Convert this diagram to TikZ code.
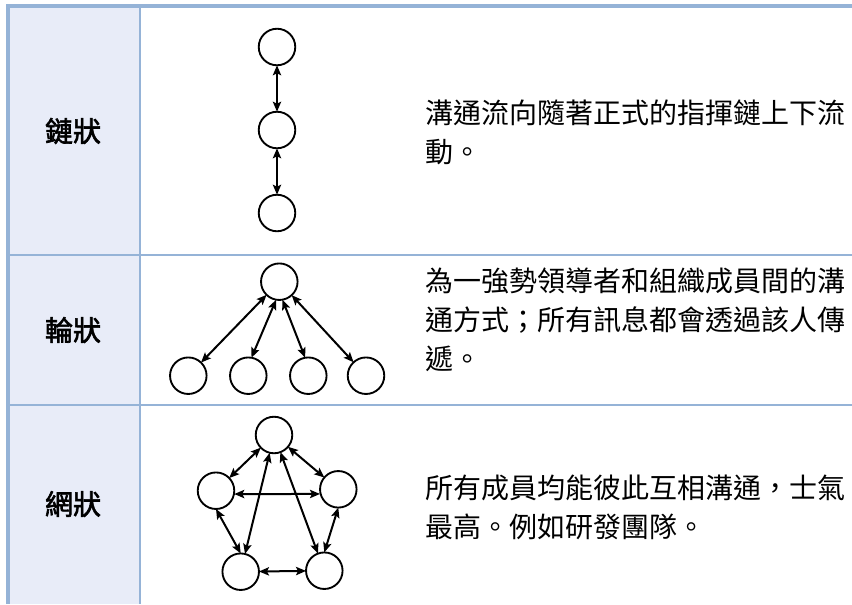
\documentclass[tikz,border=0pt]{standalone}
\usepackage{fontspec}
\newfontfamily\cjk[Script=CJK,Language=Chinese Traditional]{Noto Sans CJK TC}
\newfontfamily\cjklab[Script=CJK,Language=Chinese Traditional,FakeBold=2.2]{Noto Sans CJK TC}
\usetikzlibrary{arrows.meta}
\definecolor{bordc}{RGB}{149,179,215}
\definecolor{cellc}{RGB}{232,236,248}
\begin{document}
\begin{tikzpicture}[x=0.75pt,y=-0.75pt,
  circ/.style={circle,draw=black,line width=1.4pt,minimum size=27.4pt,inner sep=0pt,outer sep=0pt},
  link/.style={{Stealth[length=7.5pt,width=6.2pt,inset=1.5pt]}-{Stealth[length=7.5pt,width=6.2pt,inset=1.5pt]},line width=1.5pt},
  rowlabel/.style={font=\cjklab\fontsize{21}{26}\selectfont,inner sep=0pt},
  desc/.style={font=\cjk\fontsize{21}{29.25}\selectfont,align=left,anchor=west,inner sep=0pt},
  rule/.style={draw=bordc,line width=2pt}]
\useasboundingbox (0,0) rectangle (852,604);
\fill[white] (0,0) rectangle (852,604);
% table
\fill[cellc] (8,5) rectangle (140,604);
\draw[rule] (8,255) -- (852,255);
\draw[rule] (8,405) -- (852,405);
\draw[rule] (140,6) -- (140,604);
\draw[draw=bordc,line width=2.6pt] (6,5.8) -- (852,5.8);
\draw[draw=bordc,line width=3pt] (8,4.5) -- (8,604);
% labels
\node[rowlabel] (l1) at (73,131) {鏈狀};
\node[rowlabel] (l2) at (73,330) {輪狀};
\node[rowlabel] (l3) at (73,504) {網狀};
% descriptions
\node[desc] (d1) at (425,132) {溝通流向隨著正式的指揮鏈上下流\\動。};
\node[desc] (d2) at (425,320) {為一強勢領導者和組織成員間的溝\\通方式；所有訊息都會透過該人傳\\遞。};
\node[desc] (d3) at (425,507) {所有成員均能彼此互相溝通，士氣\\最高。例如研發團隊。};
% chain
\node[circ] (c1) at (277,47) {};
\node[circ] (c2) at (277,130) {};
\node[circ] (c3) at (277,213) {};
\draw[link] (c1) -- (c2);
\draw[link] (c2) -- (c3);
% wheel
\node[circ] (wt) at (279.3,281.7) {};
\node[circ] (w1) at (188.3,375.7) {};
\node[circ] (w2) at (248.3,375.7) {};
\node[circ] (w3) at (308.3,375.7) {};
\node[circ] (w4) at (366,375.7) {};
\draw[link] (wt) -- (w1);
\draw[link] (wt.-100) -- (w2.80);
\draw[link] (wt.-80) -- (w3.100);
\draw[link] (wt) -- (w4);
% mesh
\node[circ] (mt) at (274,435) {};
\node[circ] (ml) at (216,490.7) {};
\node[circ] (mr) at (338.3,489.3) {};
\node[circ] (mbl) at (240.7,571.7) {};
\node[circ] (mbr) at (324.3,570.7) {};
\draw[link] (mt) -- (ml);
\draw[link] (mt) -- (mr);
\draw[link] ([yshift=-2.5pt]ml.east) -- ([yshift=-3.5pt]mr.west);
\draw[link] (ml.south) -- (mbl.north);
\draw[link] (mr.south) -- (mbr.north);
\draw[link] (mbl) -- (mbr);
\draw[link] (mt) -- (mbl);
\draw[link] (mt) -- (mbr);
\end{tikzpicture}
\end{document}
